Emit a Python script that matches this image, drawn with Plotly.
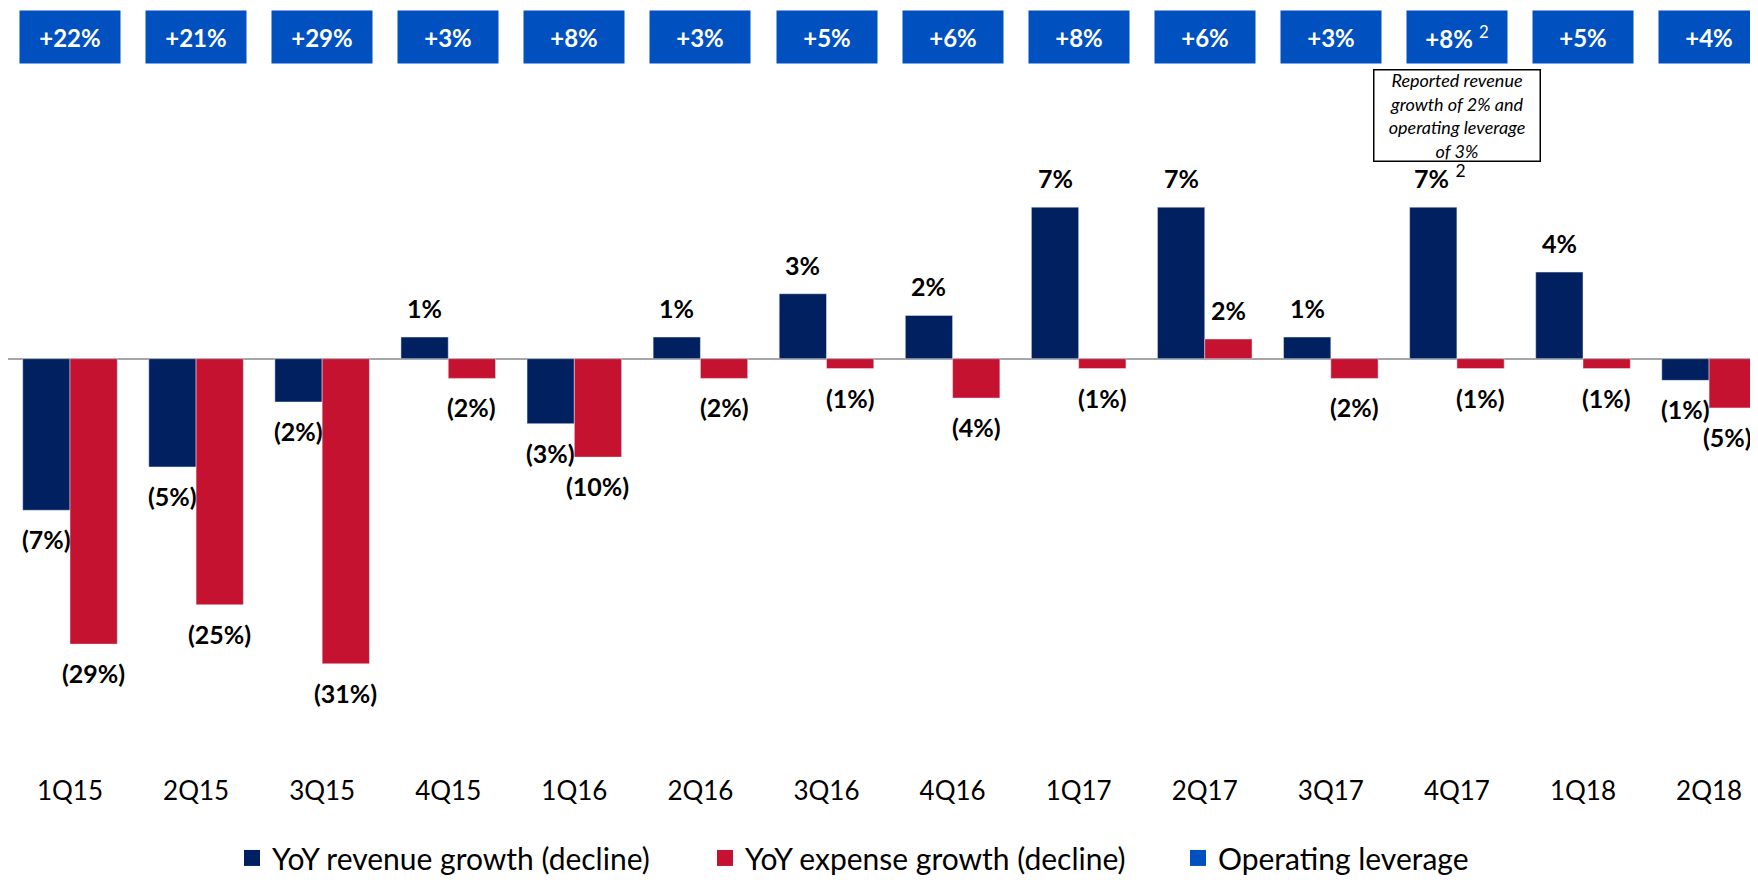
import plotly.graph_objects as go

QUARTERS = ['1Q15', '2Q15', '3Q15', '4Q15', '1Q16', '2Q16', '3Q16',
            '4Q16', '1Q17', '2Q17', '3Q17', '4Q17', '1Q18', '2Q18']
REVENUE_GROWTH = [-7, -5, -2, 1, -3, 1, 3, 2, 7, 7, 1, 7, 4, -1]
EXPENSE_GROWTH = [-29, -25, -31, -2, -10, -2, -1, -4, -1, 2, -2, -1, -1, -5]
OPERATING_LEVERAGE = [22, 21, 29, 3, 8, 3, 5, 6, 8, 6, 3, 8, 5, 4]
FOOTNOTE_QUARTER = '4Q17'
FOOTNOTE_MARK = '2'
NOTE_TEXT = 'Reported revenue<br>growth of 2% and<br>operating leverage<br>of 3%'
LEGEND_NAMES = ['YoY revenue growth (decline)', 'YoY expense growth (decline)', 'Operating leverage']

NAVY = '#002060'
RED = '#C41230'
BLUE = '#0050C0'
FONT = 'Lato'

# two hidden y axes sharing the zero line (revenue ~22px per %, expense ~10px per %)
REV_RANGE = [-18.95, 12.41]
EXP_RANGE = [v * 2.2 for v in REV_RANGE]
BAR_W = 0.375


def pct(v):
    return f'{v}%' if v >= 0 else f'({-v}%)'


fig = go.Figure()

fig.add_trace(go.Bar(x=QUARTERS, y=REVENUE_GROWTH, marker_color=NAVY, width=BAR_W,
                     offset=-BAR_W, yaxis='y', showlegend=False, cliponaxis=False,
                     hoverinfo='skip'))
fig.add_trace(go.Bar(x=QUARTERS, y=EXPENSE_GROWTH, marker_color=RED, width=BAR_W,
                     offset=0, yaxis='y2', showlegend=False, cliponaxis=False,
                     hoverinfo='skip'))

# legend entries
for name, col in zip(LEGEND_NAMES, [NAVY, RED, BLUE]):
    fig.add_trace(go.Scatter(x=[None], y=[None], mode='markers', name=name,
                             marker=dict(symbol='square', size=16, color=col)))

annotations = []
last = len(QUARTERS) - 1
for i, q in enumerate(QUARTERS):
    note = f' <sup>{FOOTNOTE_MARK}</sup>' if q == FOOTNOTE_QUARTER else ''
    for vals, yref, dx in [(REVENUE_GROWTH, 'y', -BAR_W / 2), (EXPENSE_GROWTH, 'y2', BAR_W / 2)]:
        v = vals[i]
        is_note = note and yref == 'y'
        shift_x = 7 if is_note else 0
        if i == last and yref == 'y2':
            shift_x = -5  # keep the last label inside the page
        annotations.append(dict(
            x=i + dx, y=v, xref='x', yref=yref, showarrow=False,
            text=f'<b>{pct(v)}</b>' + (note if is_note else ''),
            xanchor='center', yanchor='bottom' if v >= 0 else 'top',
            yshift=12 if v >= 0 else -12,
            xshift=shift_x,
            font=dict(family=FONT, size=25, color='black')))
    # operating leverage boxes on top
    annotations.append(dict(
        x=i, y=1.0785, xref='x', yref='paper', showarrow=False,
        xanchor='center', yanchor='middle',
        text=f'<b>+{OPERATING_LEVERAGE[i]}%</b>' + note,
        width=100, height=52, borderpad=0, bgcolor=BLUE, valign='middle',
        font=dict(family=FONT, size=24, color='white')))

annotations.append(dict(
    x=QUARTERS.index(FOOTNOTE_QUARTER), y=0.9623, xref='x', yref='paper',
    xanchor='center', yanchor='middle',
    showarrow=False, text=f'<i>{NOTE_TEXT}</i>', width=163, height=88,
    bordercolor='black', borderwidth=1.5, borderpad=1, bgcolor='white',
    font=dict(family=FONT, size=18, color='black')))

fig.update_layout(
    width=1750, height=876,
    margin=dict(l=0, r=0, t=82, b=104),
    plot_bgcolor='white', paper_bgcolor='white',
    font=dict(family=FONT, color='black'),
    annotations=annotations,
    xaxis=dict(type='category', range=[-0.4917, 13.388], showgrid=False, zeroline=False,
               showline=False, ticks='', ticklabelstandoff=4,
               tickfont=dict(size=26, color='black')),
    yaxis=dict(range=REV_RANGE, showgrid=False, showticklabels=False, ticks='',
               zeroline=True, zerolinecolor='#A6A6A6', zerolinewidth=2),
    yaxis2=dict(range=EXP_RANGE, overlaying='y', showgrid=False, showticklabels=False,
                ticks='', zeroline=False),
    legend=dict(orientation='h', x=0.128, xanchor='left', y=-0.131, yanchor='middle',
                font=dict(size=30, color='black'), entrywidth=428,
                entrywidthmode='pixels', itemsizing='trace'),
)

fig.write_html('out.html')
